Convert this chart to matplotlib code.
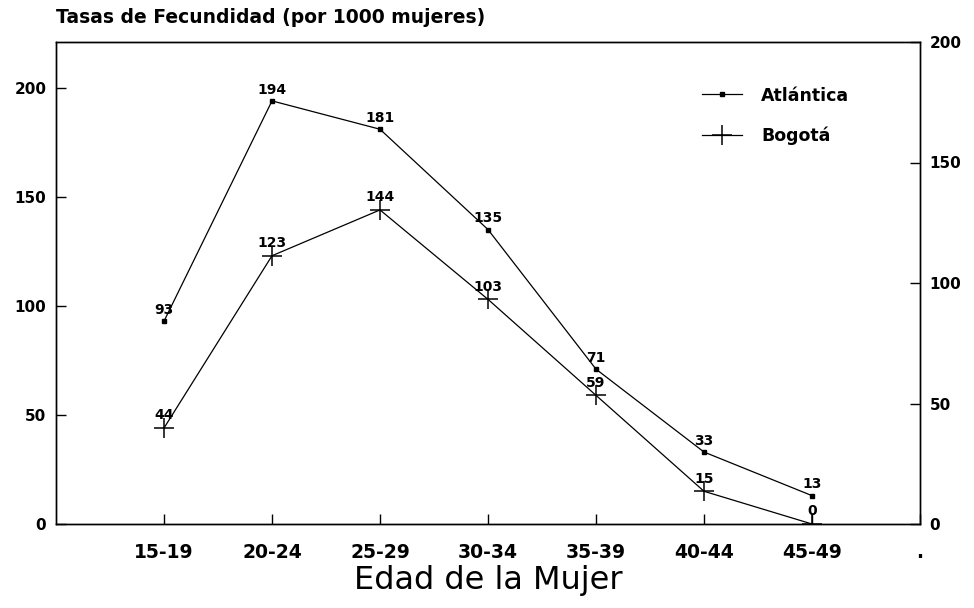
import numpy as np
import matplotlib
matplotlib.use("Agg")
import matplotlib.pyplot as plt

# data
grupos = ["15-19", "20-24", "25-29", "30-34", "35-39", "40-44", "45-49"]
atlantica = [93, 194, 181, 135, 71, 33, 13]
bogota = [44, 123, 144, 103, 59, 15, 0]
ticks_izq = [0, 50, 100, 150, 200]
ticks_der = [0, 50, 100, 150, 200]

plt.rcParams['font.family'] = ['DejaVu Sans']

fig = plt.figure(figsize=(9.74, 6.08), dpi=100)
ax = fig.add_axes([56/974, 1-524/608, 864/974, 482/608])

x = np.arange(len(grupos))
ax.plot(x, atlantica, color='black', lw=0.9, marker='s', ms=3, label='Atlántica')
ax.plot(x, bogota, color='black', lw=0.9, marker='+', ms=14, mew=1.1, label='Bogotá')

for xi, v in zip(x, atlantica):
    ax.annotate(str(v), (xi, v), xytext=(0, 3), textcoords='offset points',
                ha='center', va='bottom', fontsize=10, fontweight='bold')
for xi, v in zip(x, bogota):
    ax.annotate(str(v), (xi, v), xytext=(0, 4), textcoords='offset points',
                ha='center', va='bottom', fontsize=10, fontweight='bold')

ax.set_xlim(-1, 7)
ax.set_ylim(0, 221)
ax.set_xticks(list(x) + [7])
ax.set_xticklabels(grupos + ["."], fontsize=13.5, fontweight='bold')
ax.set_yticks(ticks_izq)
ax.set_yticklabels([str(t) for t in ticks_izq], fontsize=11, fontweight='bold')
ax.tick_params(axis='both', direction='in', length=7, width=1)
ax.tick_params(axis='x', pad=14)
ax.tick_params(axis='y', pad=7)

ax2 = ax.twinx()
ax2.set_ylim(0, 200)
ax2.set_yticks(ticks_der)
ax2.set_yticklabels([str(t) for t in ticks_der], fontsize=11, fontweight='bold')
ax2.tick_params(axis='y', direction='in', length=7, width=1, pad=7)

for a in (ax, ax2):
    for s in a.spines.values():
        s.set_linewidth(1)

ax.set_xlabel("Edad de la Mujer", fontsize=23, labelpad=2)
ax.set_title("Tasas de Fecundidad (por 1000 mujeres)", loc='left',
             fontsize=13.5, fontweight='bold', pad=14)

leg = ax.legend(loc='upper left', bbox_to_anchor=(0.73, 0.94), frameon=False,
                handlelength=2.3, handletextpad=1.1, labelspacing=1.25,
                prop={'size': 12.5, 'weight': 'bold'})

fig.savefig("out.png", dpi=100)
